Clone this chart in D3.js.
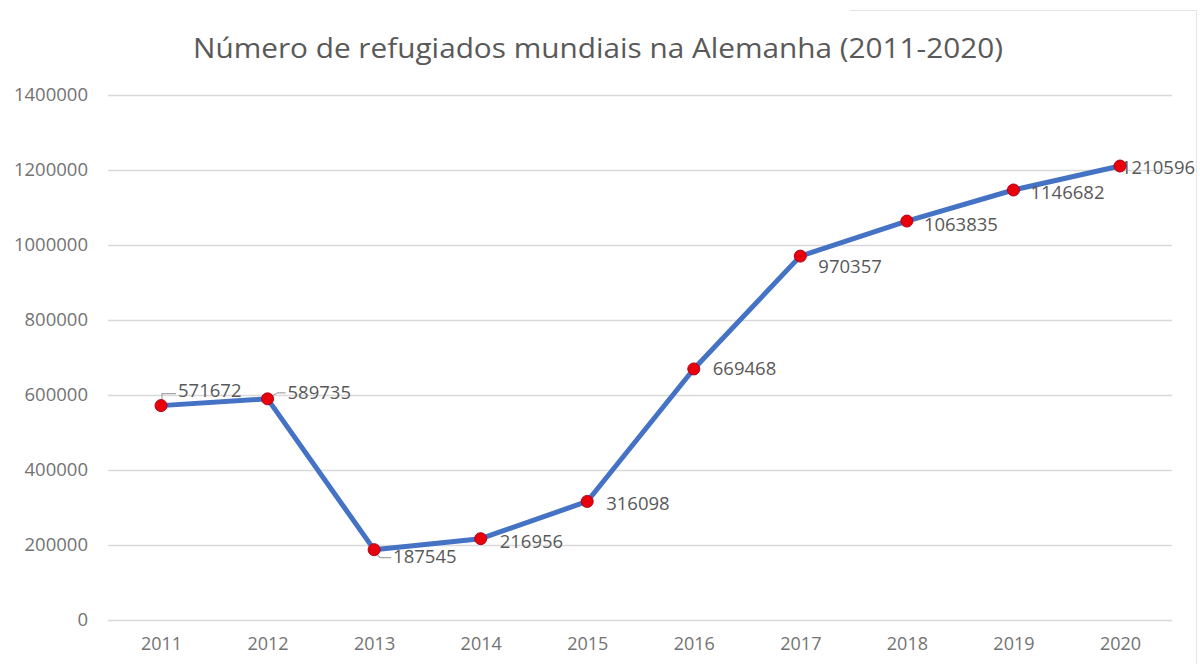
<!DOCTYPE html>
<html>
<head>
<meta charset="utf-8">
<script src="https://cdn.jsdelivr.net/npm/d3@7"></script>
<style>
  body { margin: 0; background: #fff; }
  svg { display: block; }
</style>
</head>
<body>
<figure id="chart" style="margin:0"></figure>
<script>
// data
const years = ["2011", "2012", "2013", "2014", "2015", "2016", "2017", "2018", "2019", "2020"];
const refugees = [571672, 589735, 187545, 216956, 316098, 669468, 970357, 1063835, 1146682, 1210596];
const yTicks = [0, 200000, 400000, 600000, 800000, 1000000, 1200000, 1400000];
const title = "Número de refugiados mundiais na Alemanha (2011-2020)";

// label nudges (px) so they sit where the original put them
const labelDy = [-15, -6, 7, 3, 2, 0, 10, 3, 3, 1];
const labelDx = [17, 20, 19, 19, 19, 19, 18, 17, 17, 1];

const width = 1200, height = 664;
const plot = { left: 108, right: 1172, top: 95, bottom: 620 };

const svg = d3.select("#chart").append("svg")
  .attr("width", width)
  .attr("height", height)
  .style("font-family", "'Open Sans', sans-serif");

// faint frame at top right
svg.append("path")
  .attr("d", "M850,10.5H1196.5V664")
  .attr("fill", "none")
  .attr("stroke", "#e4e4e4")
  .attr("stroke-width", 1);

svg.append("text")
  .attr("x", 598)
  .attr("y", 58)
  .attr("text-anchor", "middle")
  .attr("font-size", 27)
  .attr("fill", "#595959")
  .attr("textLength", 810)
  .attr("lengthAdjust", "spacingAndGlyphs")
  .text(title);

const x = d3.scalePoint()
  .domain(years)
  .range([161, 1120]);

const y = d3.scaleLinear()
  .domain([0, 1400000])
  .range([plot.bottom, plot.top]);

// Y gridlines + labels
const yAxis = svg.append("g")
  .attr("transform", "translate(" + plot.left + ",0)")
  .call(d3.axisLeft(y).tickValues(yTicks).tickSize(-(plot.right - plot.left)).tickPadding(20).tickFormat(d3.format("d")));
yAxis.select(".domain").remove();
yAxis.selectAll(".tick line").attr("stroke", "#d9d9d9").attr("stroke-width", 1.5);
yAxis.selectAll(".tick text")
  .attr("font-family", "'Open Sans', sans-serif")
  .attr("font-size", 18.5)
  .attr("fill", "#737373");

// X labels
const xAxis = svg.append("g")
  .attr("transform", "translate(0," + plot.bottom + ")")
  .call(d3.axisBottom(x).tickSize(0).tickPadding(17));
xAxis.select(".domain").remove();
xAxis.selectAll(".tick text")
  .attr("font-family", "'Open Sans', sans-serif")
  .attr("font-size", 18)
  .attr("fill", "#737373");

const pts = years.map((yr, i) => ({ year: yr, value: refugees[i], i: i }));

// line
svg.append("path")
  .datum(pts)
  .attr("fill", "none")
  .attr("stroke", "#4472c4")
  .attr("stroke-width", 5)
  .attr("stroke-linejoin", "round")
  .attr("d", d3.line().x(d => x(d.year)).y(d => y(d.value)));

// leader lines for the first three labels
const leaders = svg.append("g").attr("stroke", "#a6a6a6").attr("fill", "none").attr("stroke-width", 1.2);
leaders.append("path").attr("d", () => {
  const px = x(years[0]), py = y(refugees[0]);
  return "M" + (px + 1) + "," + (py - 4) + "V" + (py + labelDy[0] + 3) + "H" + (px + labelDx[0] - 2);
});
leaders.append("path").attr("d", () => {
  const px = x(years[1]), py = y(refugees[1]);
  return "M" + (px + 5) + "," + (py - 3) + "L" + (px + 10) + "," + (py + labelDy[1]) + "H" + (px + labelDx[1] - 2);
});
leaders.append("path").attr("d", () => {
  const px = x(years[2]), py = y(refugees[2]);
  return "M" + (px + 2) + "," + (py + 4) + "L" + (px + 6) + "," + (py + labelDy[2] + 1) + "H" + (px + labelDx[2] - 2);
});

// data labels (drawn before markers so the last one's leading digit hides behind the dot)
svg.append("g").selectAll("text")
  .data(pts)
  .enter()
  .append("text")
  .attr("x", d => x(d.year) + labelDx[d.i])
  .attr("y", d => y(d.value) + labelDy[d.i])
  .attr("dy", "0.35em")
  .attr("font-size", 18.5)
  .attr("fill", "#595959")
  .text(d => d.value);

// markers
svg.append("g").selectAll("circle")
  .data(pts)
  .enter()
  .append("circle")
  .attr("cx", d => x(d.year))
  .attr("cy", d => y(d.value))
  .attr("r", 6)
  .attr("fill", "#e8000b")
  .attr("stroke", "#b3001a")
  .attr("stroke-width", 1);
</script>
</body>
</html>
